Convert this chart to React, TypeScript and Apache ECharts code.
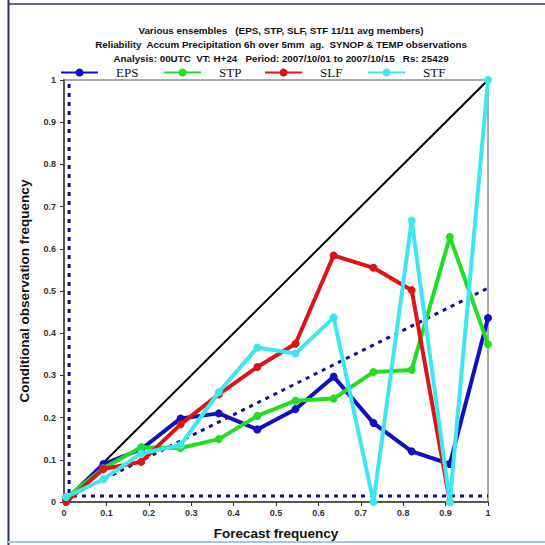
import React, { useEffect, useRef } from "react";
import * as echarts from "echarts";

const binX = [0.005, 0.093, 0.182, 0.275, 0.365, 0.456, 0.546, 0.636, 0.73, 0.82, 0.91, 1.0];
const epsY = [0.005, 0.09, 0.125, 0.198, 0.21, 0.172, 0.22, 0.297, 0.187, 0.12, 0.09, 0.436];
const stpY = [0.01, 0.08, 0.13, 0.128, 0.149, 0.204, 0.24, 0.245, 0.308, 0.313, 0.628, 0.374];
const slfY = [0.0, 0.078, 0.095, 0.184, 0.255, 0.32, 0.375, 0.584, 0.555, 0.502, 0.0];
const stfY = [0.012, 0.054, 0.115, 0.135, 0.26, 0.366, 0.352, 0.437, 0.0, 0.667, 0.0, 1.0];

const seriesNames = ["EPS", "STP", "SLF", "STF"];
const seriesColors = ["#1010c0", "#22dd22", "#dd1414", "#3ee6f0"];

const climatology = 0.014;
const perfectLine = [[0, 0], [1, 1]];
const noSkillLine = [[0, climatology / 2], [1, (1 + climatology) / 2]];
const climHLine = [[0, climatology], [1, climatology]];
const climVLine = [[0.012, 0], [0.012, 1]];

const titleLines = [
  "Various ensembles   (EPS, STP, SLF, STF 11/11 avg members)",
  "Reliability  Accum Precipitation 6h over 5mm  ag.  SYNOP & TEMP observations",
  "Analysis: 00UTC  VT: H+24   Period: 2007/10/01 to 2007/10/15   Rs: 25429",
];

const pair = (ys: number[]) => ys.map((y, i) => [binX[i], y]);

export default function App() {
  const ref = useRef<HTMLDivElement>(null);
  useEffect(() => {
    if (!ref.current) return;
    const chart = echarts.init(ref.current, undefined, { renderer: "svg" });
    const allY = [epsY, stpY, slfY, stfY];
    const legendLeft = [55, 158, 259, 362];
    const dotted = {
      type: "line",
      silent: true,
      showSymbol: false,
      symbol: "none",
      lineStyle: { color: "#10108a", width: 3, type: [4, 5] },
      z: 2,
    };
    const labelFmt = (v: number) => (v === 0 ? "0" : v === 1 ? "1" : v.toFixed(1));
    const axisCommon = {
      type: "value",
      min: 0,
      max: 1,
      interval: 0.1,
      splitLine: { show: false },
      axisLine: { show: true, lineStyle: { color: "#555", width: 2 } },
      axisTick: { show: true, length: 4, lineStyle: { color: "#333", width: 1 } },
      axisLabel: {
        color: "#333",
        fontSize: 9,
        fontWeight: "bold",
        fontFamily: "Liberation Sans",
        formatter: labelFmt,
      },
      nameTextStyle: {
        color: "#111",
        fontSize: 13.5,
        fontWeight: "bold",
        fontFamily: "Liberation Sans",
      },
    };
    chart.setOption({
      animation: false,
      backgroundColor: "#fff",
      title: {
        text: titleLines.join("\n"),
        left: 276,
        top: 18,
        textAlign: "center",
        textStyle: {
          fontSize: 9.8,
          fontWeight: "bold",
          fontFamily: "Liberation Sans",
          color: "#111",
          lineHeight: 14,
        },
      },
      legend: seriesNames.map((n, i) => ({
        data: [n],
        left: legendLeft[i],
        top: 61,
        itemWidth: 37,
        itemHeight: 10,
        selectedMode: false,
        textStyle: {
          fontFamily: "Liberation Serif",
          fontSize: 13,
          color: "#111",
          padding: [0, 0, 0, 13],
        },
      })),
      grid: {
        left: 64,
        right: 57,
        top: 80,
        bottom: 42,
        show: true,
        borderColor: "#555",
        borderWidth: 1,
        backgroundColor: "#fff",
      },
      xAxis: {
        ...axisCommon,
        name: "Forecast frequency",
        nameLocation: "middle",
        nameGap: 24,
        axisLabel: { ...axisCommon.axisLabel, margin: 6 },
      },
      yAxis: {
        ...axisCommon,
        name: "Conditional observation frequency",
        nameLocation: "middle",
        nameGap: 33,
        axisLabel: { ...axisCommon.axisLabel, margin: 8 },
      },
      graphic: [
        { type: "line", shape: { x1: 8.5, y1: 0, x2: 8.5, y2: 545 }, style: { stroke: "#30306a", lineWidth: 2 } },
        { type: "line", shape: { x1: 8, y1: 4, x2: 545, y2: 4 }, style: { stroke: "#30306a", lineWidth: 1.5 } },
        { type: "line", shape: { x1: 8, y1: 542, x2: 545, y2: 542 }, style: { stroke: "#a8c4e0", lineWidth: 2 } },
      ],
      series: [
        {
          type: "line",
          data: perfectLine,
          symbol: "none",
          silent: true,
          lineStyle: { color: "#000", width: 2 },
          z: 1,
        },
        { ...dotted, data: noSkillLine },
        { ...dotted, data: climHLine },
        { ...dotted, data: climVLine },
        ...seriesNames.map((n, i) => ({
          type: "line",
          name: n,
          data: pair(allY[i]),
          symbol: "circle",
          symbolSize: 8,
          showSymbol: true,
          lineStyle: { color: seriesColors[i], width: 4 },
          itemStyle: { color: seriesColors[i] },
          z: 3 + i,
        })),
      ],
    });
    return () => chart.dispose();
  }, []);
  return <div ref={ref} style={{ width: 545, height: 545, position: "absolute", left: 0, top: 0 }} />;
}
